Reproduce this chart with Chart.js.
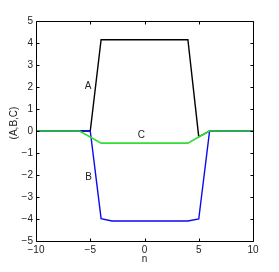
<!DOCTYPE html>
<html>
<head>
<meta charset="utf-8">
<script src="https://cdn.jsdelivr.net/npm/chart.js@4/dist/chart.umd.min.js"></script>
<style>
html,body{margin:0;padding:0;background:#fff;}
canvas{display:block;}
</style>
</head>
<body>
<canvas id="c" width="279" height="272"></canvas>
<script>
const n = [-10,-9,-8,-7,-6,-5,-4,-3,-2,-1,0,1,2,3,4,5,6,7,8,9,10];
const seriesA = [0,0,0,0,0,0,4.15,4.15,4.15,4.15,4.15,4.15,4.15,4.15,4.15,-0.27,0,0,0,0,0];
const seriesB = [0,0,0,0,0,0,-3.98,-4.09,-4.09,-4.09,-4.09,-4.09,-4.09,-4.09,-4.09,-4.0,0,0,0,0,0];
const seriesC = [0,0,0,0,0,-0.27,-0.55,-0.55,-0.55,-0.55,-0.55,-0.55,-0.55,-0.55,-0.55,-0.27,0,0,0,0,0];
const xTicks = [-10,-5,0,5,10];
const yTicks = [-5,-4,-3,-2,-1,0,1,2,3,4,5];
const seriesNames = ['A','B','C'];
const labelPos = [[-5.2,2.03],[-5.15,-2.12],[-0.28,-0.2]];
const FONT = '10px "Liberation Sans", Arial, sans-serif';

function pts(arr){ return n.map((x,i)=>({x:x,y:arr[i]})); }
const fmt = v => String(v).replace('-', '\u2212');

const decor = {
  id:'decor',
  afterDatasetsDraw(chart){
    const ctx = chart.ctx, a = chart.chartArea;
    const xs = chart.scales.x, ys = chart.scales.y;
    ctx.save();
    ctx.strokeStyle = '#000';
    ctx.lineWidth = 1;
    const L = Math.round(a.left)+0.5, R = Math.round(a.right)+0.5, T = Math.round(a.top)+0.5, B = Math.round(a.bottom)+0.5;
    ctx.beginPath();
    ctx.rect(L, T, R-L, B-T);
    ctx.stroke();
    ctx.beginPath();
    const tl = 3;
    xTicks.forEach(v=>{
      const px = Math.round(xs.getPixelForValue(v))+0.5;
      ctx.moveTo(px,B); ctx.lineTo(px,B-tl);
      ctx.moveTo(px,T); ctx.lineTo(px,T+tl);
    });
    yTicks.forEach(v=>{
      const py = Math.round(ys.getPixelForValue(v))+0.5;
      ctx.moveTo(L,py); ctx.lineTo(L+tl,py);
      ctx.moveTo(R,py); ctx.lineTo(R-tl,py);
    });
    ctx.stroke();
    ctx.fillStyle = '#222';
    ctx.font = FONT;
    ctx.textAlign = 'center';
    ctx.textBaseline = 'middle';
    seriesNames.forEach((s,i)=>{
      ctx.fillText(s, xs.getPixelForValue(labelPos[i][0]), ys.getPixelForValue(labelPos[i][1]));
    });
    ctx.fillText('n', (a.left+a.right)/2, 259);
    ctx.translate(14, 123);
    ctx.rotate(-Math.PI/2);
    ctx.fillText('(A,B,C)', 0, 0);
    ctx.restore();
  }
};

new Chart(document.getElementById('c'), {
  type:'line',
  data:{
    datasets:[
      {label:'A', data:pts(seriesA), borderColor:'#000000', borderWidth:1.4, pointRadius:0, fill:false, tension:0, order:3},
      {label:'B', data:pts(seriesB), borderColor:'#0a0af0', borderWidth:1.4, pointRadius:0, fill:false, tension:0, order:2},
      {label:'C', data:pts(seriesC), borderColor:'#33dd33', borderWidth:1.6, pointRadius:0, fill:false, tension:0, order:1}
    ]
  },
  options:{
    responsive:false,
    devicePixelRatio:1,
    animation:false,
    layout:{padding:{left:0, top:21, right:26, bottom:0}},
    plugins:{legend:{display:false}, tooltip:{enabled:false}},
    scales:{
      x:{
        type:'linear', min:-10, max:10,
        afterBuildTicks(s){ s.ticks = xTicks.map(v=>({value:v})); },
        afterFit(s){ s.height = 31; },
        grid:{display:false, drawTicks:false},
        border:{display:false},
        ticks:{padding:3, color:'#222', font:{family:'"Liberation Sans", Arial, sans-serif', size:10}, callback:v=>fmt(v), maxRotation:0, autoSkip:false}
      },
      y:{
        type:'linear', min:-5, max:5,
        afterBuildTicks(s){ s.ticks = yTicks.map(v=>({value:v})); },
        afterFit(s){ s.width = 36; },
        grid:{display:false, drawTicks:false},
        border:{display:false},
        ticks:{padding:3, color:'#222', font:{family:'"Liberation Sans", Arial, sans-serif', size:10}, callback:v=>fmt(v), autoSkip:false}
      }
    }
  },
  plugins:[decor]
});
</script>
</body>
</html>
